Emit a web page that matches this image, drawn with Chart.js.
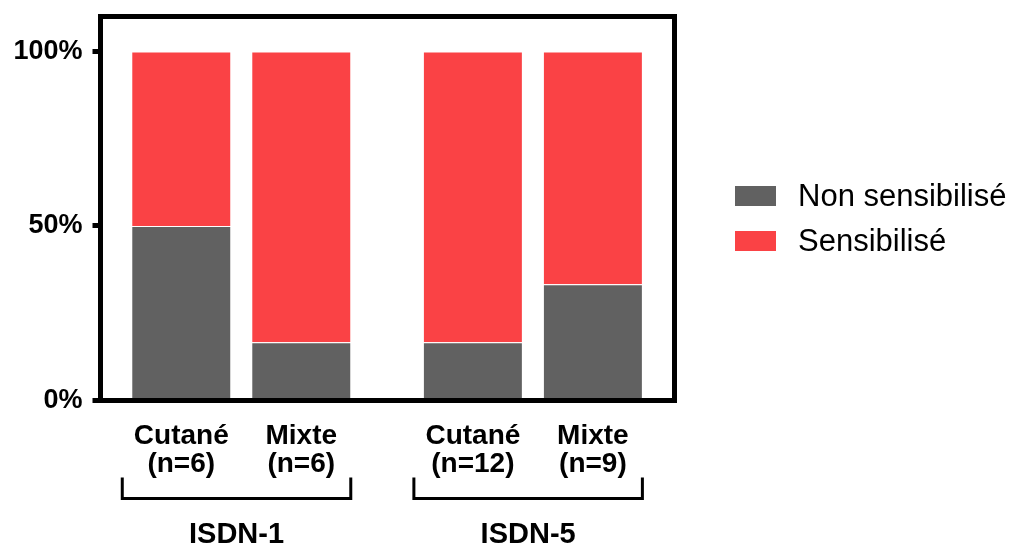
<!DOCTYPE html>
<html>
<head>
<meta charset="utf-8">
<script src="https://cdn.jsdelivr.net/npm/chart.js@4/dist/chart.umd.min.js"></script>
<style>
  html, body { margin: 0; padding: 0; background: #fff; }
  #wrap { width: 1013px; height: 549px; }
</style>
</head>
<body>
<div id="wrap"><canvas id="sensChart" width="1013" height="549"></canvas></div>
<script>
const groups = ['ISDN-1', 'ISDN-5'];
const categories = ['Cutané', 'Mixte', 'Cutané', 'Mixte'];
const groupOf = [0, 0, 1, 1];
const counts = [6, 6, 12, 9];
const nonSensibilise = [50, 16.7, 16.7, 33.3];
const sensibilise = [50, 83.3, 83.3, 66.7];
const yTicks = [0, 50, 100];

const groupStep = 2.43; // distance between groups, in bar units

window.addEventListener('DOMContentLoaded', () => {
  renderSensChart();
});

function renderSensChart() {
  try {
    Chart.defaults.font.family = "'Liberation Sans', Arial, sans-serif";
    Chart.defaults.color = '#000';

    // x slot of each bar: group offset + index inside group
    const slots = categories.map((c, i) => groupOf[i] * groupStep + (i - groupOf.indexOf(groupOf[i])));

    const framePlugin = {
      id: 'frame',
      afterDatasetsDraw(chart) {
        const { ctx, chartArea: a } = chart;
        ctx.save();
        ctx.strokeStyle = '#000';
        ctx.lineWidth = 5;
        ctx.strokeRect(a.left, a.top, a.right - a.left, a.bottom - a.top);
        ctx.restore();
      },
      afterDraw(chart) {
        const { ctx, chartArea: a } = chart;
        const x = chart.scales.x;
        ctx.save();

        // group brackets + labels
        groups.forEach((g, gi) => {
          const idx = groupOf.map((v, i) => v === gi ? i : -1).filter(i => i >= 0);
          const half = 50;
          const x1 = x.getPixelForValue(slots[idx[0]]) - half - 9;
          const x2 = x.getPixelForValue(slots[idx[idx.length - 1]]) + half - 0.5;
          const yTop = a.bottom + 77;
          const yBot = a.bottom + 98;
          ctx.strokeStyle = '#000';
          ctx.lineWidth = 3;
          ctx.beginPath();
          ctx.moveTo(x1, yTop);
          ctx.lineTo(x1, yBot);
          ctx.lineTo(x2, yBot);
          ctx.lineTo(x2, yTop);
          ctx.stroke();
          ctx.fillStyle = '#000';
          ctx.font = "bold 29px 'Liberation Sans', Arial, sans-serif";
          ctx.textAlign = 'center';
          ctx.textBaseline = 'alphabetic';
          ctx.fillText(g, (x1 + x2) / 2, a.bottom + 142.5);
        });

        // legend
        const ds = chart.data.datasets;
        ctx.font = "31px 'Liberation Sans', Arial, sans-serif";
        ctx.textAlign = 'left';
        ctx.textBaseline = 'middle';
        ds.forEach((d, i) => {
          const cy = 196 + i * 45;
          ctx.fillStyle = d.backgroundColor;
          ctx.fillRect(735, cy - 10, 41, 20);
          ctx.fillStyle = '#000';
          ctx.fillText(d.label, 798, cy + 1);
        });
        ctx.restore();
      }
    };

    const ctx = document.getElementById('sensChart').getContext('2d');
    new Chart(ctx, {
      type: 'bar',
      data: {
        datasets: [{
          label: 'Non sensibilisé',
          data: slots.map((s, i) => ({ x: s, y: nonSensibilise[i] })),
          backgroundColor: '#616161',
          borderColor: 'rgba(255,255,255,0.45)',
          borderWidth: 1,
          barPercentage: 0.833,
          categoryPercentage: 1
        }, {
          label: 'Sensibilisé',
          data: slots.map((s, i) => ({ x: s, y: sensibilise[i] })),
          backgroundColor: '#fa4245',
          borderColor: 'rgba(255,255,255,0.45)',
          borderWidth: 1,
          barPercentage: 0.833,
          categoryPercentage: 1
        }]
      },
      options: {
        responsive: false,
        animation: false,
        layout: { padding: { top: 16.5, right: 338.5, left: 0, bottom: 0 } },
        scales: {
          x: {
            type: 'linear',
            stacked: true,
            offset: false,
            min: -0.673,
            max: 4.11,
            afterBuildTicks: scale => { scale.ticks = slots.map(v => ({ value: v })); },
            afterFit: scale => {
              scale.height = 148.5;
              scale.paddingLeft = 0;
              scale.paddingRight = 0;
            },
            grid: { display: false, drawTicks: false },
            border: { display: false },
            ticks: {
              autoSkip: false,
              maxRotation: 0,
              padding: 22,
              font: { size: 28, weight: 'bold', lineHeight: 1.0 },
              callback: (v, i) => [categories[i], `(n=${counts[i]})`]
            }
          },
          y: {
            stacked: true,
            min: 0,
            max: 110,
            afterBuildTicks: scale => { scale.ticks = yTicks.map(v => ({ value: v })); },
            afterFit: scale => {
              scale.width = 100.5;
              scale.paddingTop = 0;
              scale.paddingBottom = 0;
            },
            grid: {
              drawOnChartArea: false,
              drawTicks: true,
              tickLength: 8,
              tickWidth: 5,
              tickColor: '#000'
            },
            border: { display: false },
            ticks: {
              padding: 10,
              font: { size: 27, weight: 'bold' },
              callback: v => v + '%'
            }
          }
        },
        plugins: {
          legend: { display: false },
          tooltip: { enabled: false }
        }
      },
      plugins: [framePlugin]
    });
  } catch (error) {
    console.error('Error drawing chart:', error);
  }
}
</script>
</body>
</html>
